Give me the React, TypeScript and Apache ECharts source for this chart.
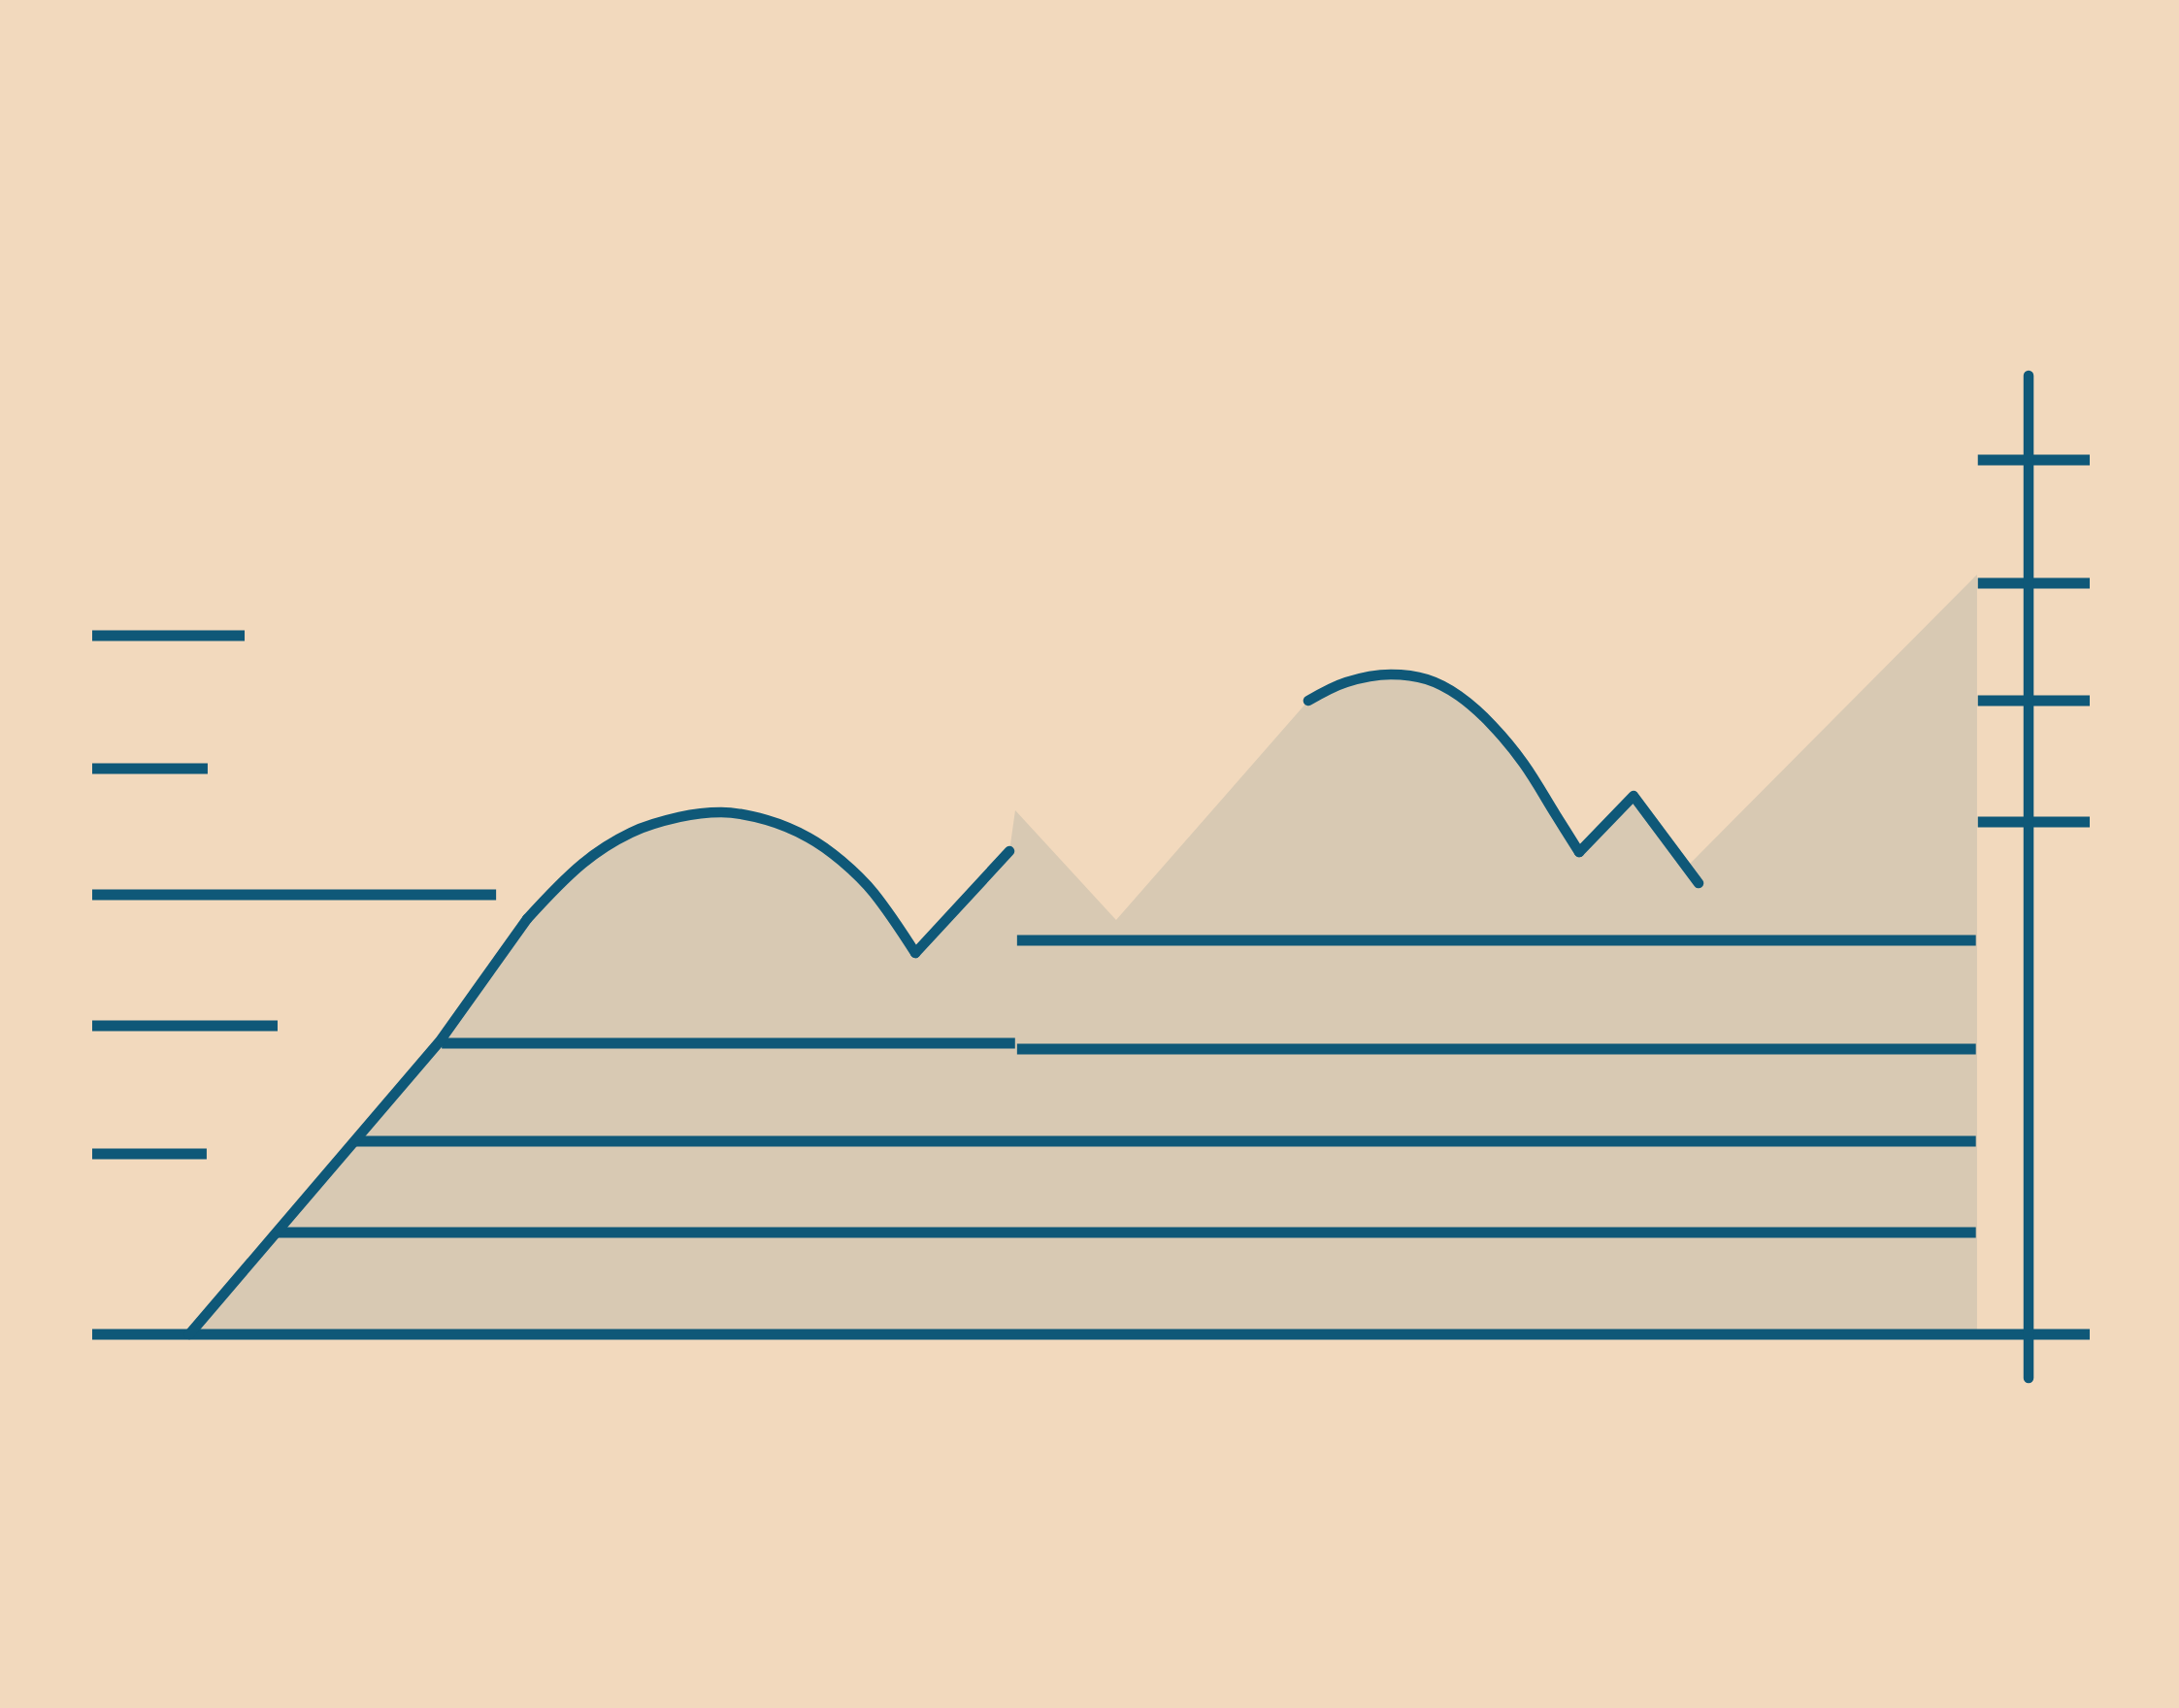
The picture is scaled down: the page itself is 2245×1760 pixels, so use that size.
import React, { useEffect, useRef } from "react";
import * as echarts from "echarts";

// ---- data (chart units: x 0..100 along the baseline, y 0 = baseline) ----
const leftRise: number[][] = [[4.86, 0], [17.4, 30.57], [21.77, 43.32]];
const leftPeak: number[][] = [
  [21.77, 43.32], [24.54, 49.09], [26.97, 52.33], [29.4, 53.95], [31.49, 54.45],
  [33.77, 53.64], [35.86, 51.82], [37.51, 49.39], [39.12, 46.05], [41.21, 39.78],
];
const leftNotch: number[][] = [[41.21, 39.78], [45.92, 50.4]];
const midRise: number[][] = [[45.92, 50.4], [46.21, 54.66], [51.26, 43.22], [60.88, 66.09]];
const rightPeak: number[][] = [
  [60.88, 66.09], [62.78, 68.02], [65.01, 68.83], [66.81, 68.32], [68.42, 66.6],
  [70.07, 63.56], [71.67, 59.51], [73.28, 54.15], [74.44, 50.3],
];
const rightNotch: number[][] = [[74.44, 50.3], [77.16, 56.17], [80.42, 47.06]];
const rightRise: number[][] = [[74.44, 50.3], [77.16, 56.17], [79.84, 48.79], [94.36, 79.25]];

// horizontal strokes: [xStart, xEnd, y]
const leftStubs: number[][] = [
  [0, 7.63, 72.87], [0, 5.78, 59.01], [0, 20.22, 45.85], [0, 9.28, 32.19], [0, 5.73, 18.83],
];
const bands: number[][] = [
  [17.5, 46.2, 30.36], [46.3, 94.3, 29.76], [46.3, 94.3, 41.09],
  [13.1, 94.3, 20.14], [9.2, 94.3, 10.63],
];
const baseline: number[] = [0, 100, 0];
const axisX = 96.94;
const axisRange: number[] = [-4.55, 100];
const axisTicks: number[] = [91.19, 78.34, 66.09, 53.44];
const tickSpan: number[] = [94.4, 100];

const BG = "#F2D9BD";
const FILL = "#D8C9B3";
const INK = "#0F5878";

function joinParts(parts: number[][][]): number[][] {
  const out: number[][] = [];
  parts.forEach((p) =>
    p.forEach((pt) => {
      const last = out[out.length - 1];
      if (!last || last[0] !== pt[0] || last[1] !== pt[1]) out.push(pt);
    })
  );
  return out;
}

function fillSeries(data: number[][]) {
  return {
    type: "line", data, smooth: false, symbol: "none", showSymbol: false,
    clip: false, silent: true,
    lineStyle: { width: 0, opacity: 0 },
    areaStyle: { color: FILL, opacity: 1 },
    z: 1,
  };
}
function stroke(data: number[][], width: number, cap: string, smooth: number | boolean = false, z = 3) {
  return {
    type: "line", data, smooth, symbol: "none", showSymbol: false,
    clip: false, silent: true,
    lineStyle: { color: INK, width, cap, join: "round" },
    z,
  };
}

export default function App() {
  const ref = useRef<HTMLDivElement>(null);
  useEffect(() => {
    if (!ref.current) return;
    const chart = echarts.init(ref.current, undefined, { renderer: "svg" });
    const S = 0.35;
    const series: any[] = [
      fillSeries(joinParts([leftRise, leftPeak, leftNotch, midRise, rightPeak, rightRise])),
    ];
    bands.forEach((b) => series.push(stroke([[b[0], b[2]], [b[1], b[2]]], 11, "butt", false, 2)));
    leftStubs.forEach((b) => series.push(stroke([[b[0], b[2]], [b[1], b[2]]], 11, "butt")));
    series.push(stroke([[baseline[0], baseline[2]], [baseline[1], baseline[2]]], 11, "butt"));
    series.push(stroke(leftRise, 10.5, "round", false, 4));
    series.push(stroke(leftPeak, 10.5, "round", S, 4));
    series.push(stroke(leftNotch, 10.5, "round", false, 4));
    series.push(stroke(rightPeak, 10.5, "round", S, 4));
    series.push(stroke(rightNotch, 10.5, "round", false, 4));
    axisTicks.forEach((t) => series.push(stroke([[tickSpan[0], t], [tickSpan[1], t]], 11, "butt", false, 5)));
    series.push(stroke([[axisX, axisRange[0]], [axisX, axisRange[1]]], 10.5, "round", false, 5));

    chart.setOption({
      animation: false,
      backgroundColor: BG,
      grid: { left: 95, top: 387, width: 2058, height: 1037.4 },
      xAxis: { type: "value", min: 0, max: 100, show: false },
      yAxis: { type: "value", min: -5, max: 100, show: false },
      tooltip: { show: false },
      series,
    });
    return () => chart.dispose();
  }, []);
  return (
    <div
      ref={ref}
      style={{ position: "absolute", left: 0, top: 0, width: 2245, height: 1760 }}
    />
  );
}
